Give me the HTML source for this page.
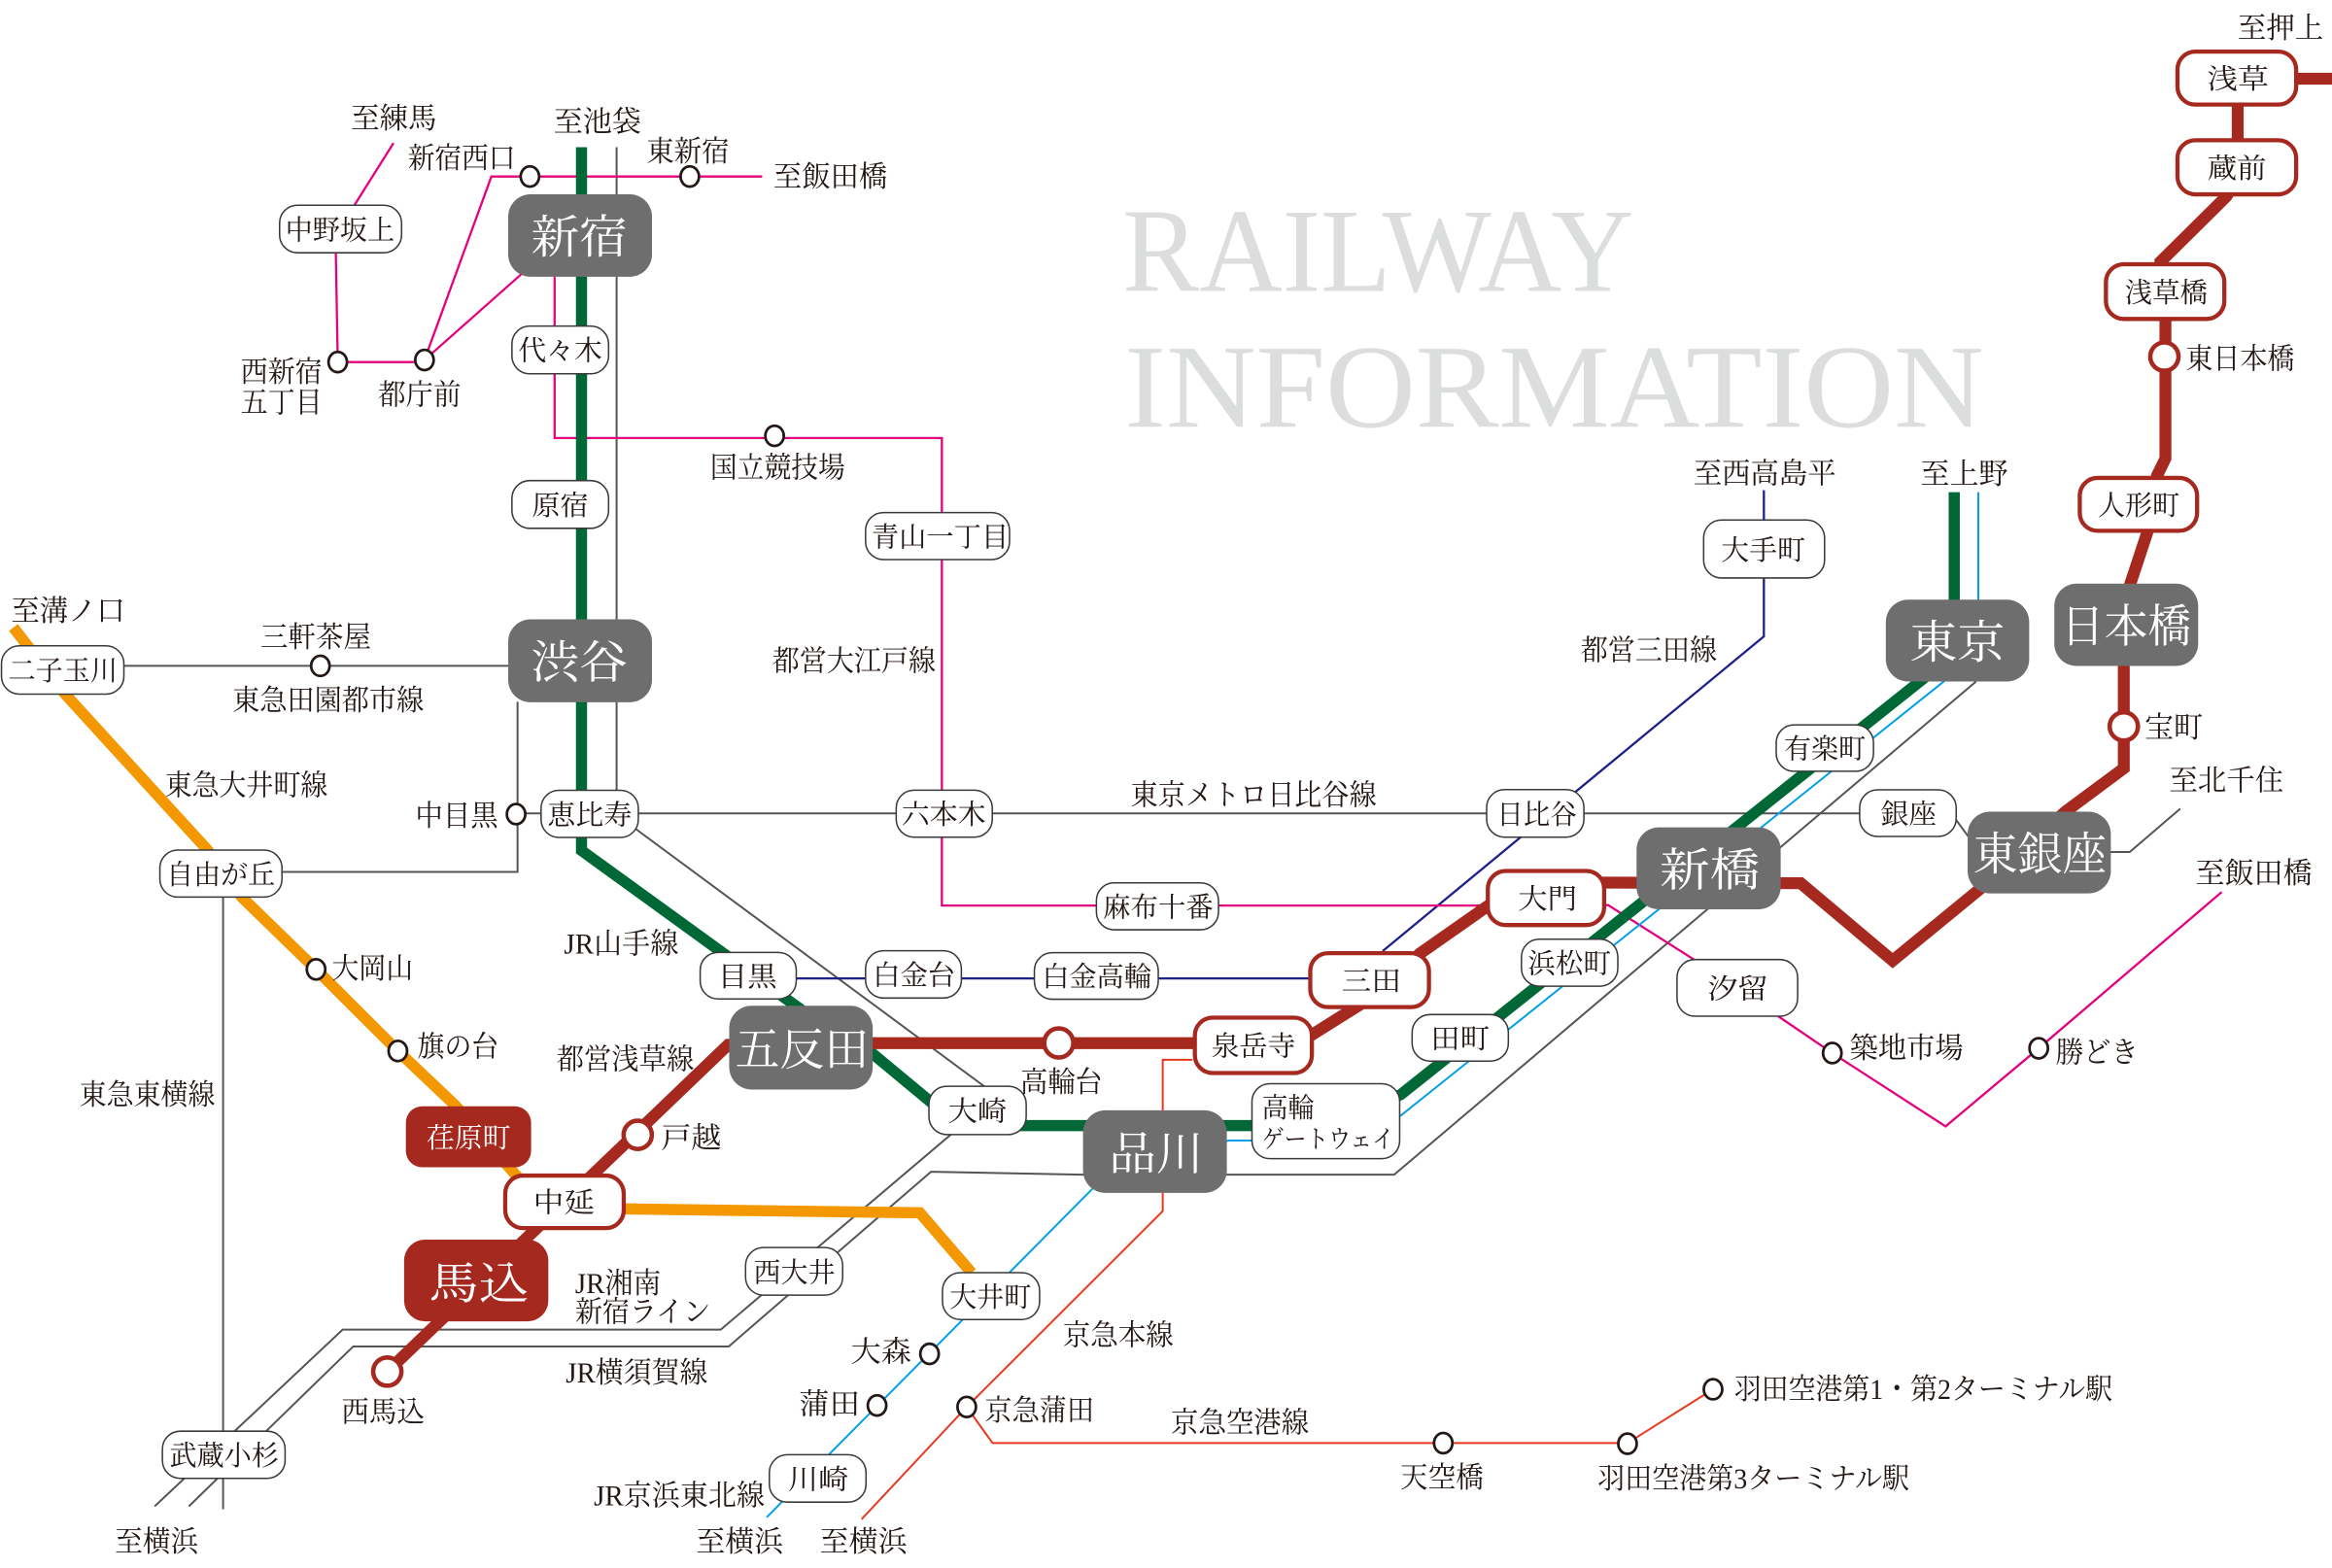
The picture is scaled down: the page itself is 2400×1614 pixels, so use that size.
<!DOCTYPE html>
<html><head><meta charset="utf-8">
<style>
html,body{margin:0;padding:0;background:#fff;}
svg{display:block;}
text{font-family:"Liberation Serif","Noto Serif CJK JP","Noto Serif CJK SC",serif;fill:#231815;}
.o{font-size:19.5px;text-anchor:middle;}
.os{font-size:19.5px;text-anchor:start;}
.b{font-size:18.5px;text-anchor:middle;}
.g{font-size:31px;text-anchor:middle;fill:#fff;}
.w{fill:#fff;stroke:#3a3a3a;stroke-width:1;}
.r{fill:#fff;stroke:#a6291f;stroke-width:2.8;}
.gr{fill:#6e6e6e;}
.c{fill:#fff;stroke:#231815;stroke-width:1.8;}
.rc{fill:#fff;stroke:#a6291f;stroke-width:3;}
</style></head>
<body>
<svg width="2400" height="1614" viewBox="0 0 1568 1054.5" preserveAspectRatio="none" xmlns="http://www.w3.org/2000/svg">
<!-- Title -->
<text x="754.7" y="195.6" font-size="80" textLength="344" lengthAdjust="spacingAndGlyphs" style="fill:#dcdddd;font-family:'Liberation Serif',serif">RAILWAY</text>
<text x="756" y="287" font-size="80" textLength="578" lengthAdjust="spacingAndGlyphs" style="fill:#dcdddd;font-family:'Liberation Serif',serif">INFORMATION</text>

<g fill="none" stroke-linejoin="miter">
<!-- gray lines -->
<g stroke="#555" stroke-width="1.3">
<path d="M414.6,99 V548 L661.7,730.5 L639,763.3 L484.6,894.2 H230.4 L104,1013"/>
<path d="M1328.7,458.3 L937.4,790 H727 L626,788 L490,905.5 H237.5 L127,1013"/>
<path d="M347,547 H1312 L1326,566"/>
<path d="M1419,573 H1432 L1466,543.8"/>
<path d="M83,447.8 H342"/>
<path d="M348,472 V586.4 H189.6"/>
<path d="M150,603 V1015"/>
</g>
<!-- navy Mita -->
<g stroke="#1d2088" stroke-width="1.5">
<path d="M500,658 H885"/>
<path d="M929.7,639.6 L1186,428 V329.7"/>
</g>
<!-- magenta Oedo -->
<g stroke="#e4007f" stroke-width="1.5">
<path d="M264.6,96.2 L238.3,138"/>
<path d="M225.8,170 L227.1,243.5 H285.4"/>
<path d="M285.4,242.1 L330.4,118.7 H512.5"/>
<path d="M285.4,242.1 L351.2,183.8"/>
<path d="M372.9,186 V294.6 H633.3 V609 H1005"/>
<path d="M1075,608.7 H1081.3 L1139,645.3"/>
<path d="M1195.6,683.4 L1232,708.2 L1308.2,757.5 L1370.8,705 L1493.8,599.9"/>
</g>
<!-- light blue -->
<path stroke="#00a0e9" stroke-width="1.3" d="M1330.2,331 V440 L1307,458.3 L941.9,750.2 L900,767 H826 L738,796 L515.5,1020.4"/>
<!-- keikyu -->
<g stroke="#e83820" stroke-width="1.3">
<path d="M801.7,712.7 H781.8 V814.5 L650,946.2 L579.3,1021.7"/>
<path d="M650,946.2 L667.4,970.5 H1094.3 L1151.8,934.3"/>
</g>
<!-- green Yamanote -->
<path stroke="#006837" stroke-width="7.5" d="M391,99 V572 L540,680 L586,708 L645,757 H900 L942,736 L1295,455 L1314,440 V331"/>
<!-- orange Oimachi -->
<path stroke="#f39800" stroke-width="7.5" d="M9,422 L43.8,466.8 L139.6,571.7 L162.5,603.3 L212.5,651.9 L267.5,706.8 L306.3,743.6 L348,791.6 L380,812.5 L618.5,815.6 L653.3,856"/>
<!-- red Asakusa -->
<path stroke="#a6291f" stroke-width="8" d="M260.4,922.4 L489.6,702.6 L540,701.5 H862 L870,703.5 L925,669 L954.7,641.3 L1010,602.5 L1030,593.4 L1210.8,594 L1272.6,646 L1332.6,596.8 L1388.7,545.9 L1428,516.7 V420 L1432,393.8 L1443.7,358.4 L1450.3,320 L1456,308.3 V215.9 L1452.7,176 L1497,132.1 L1504.6,120 V52.9 H1570"/>
</g>

<!-- small circles -->
<g class="c">
<ellipse cx="356.3" cy="118.7" rx="6.2" ry="6.8"/>
<ellipse cx="463.8" cy="118.7" rx="6.2" ry="6.8"/>
<ellipse cx="285.4" cy="242.1" rx="6.2" ry="6.8"/>
<ellipse cx="227.1" cy="243.5" rx="6.2" ry="6.8"/>
<ellipse cx="520.8" cy="293.1" rx="6.2" ry="6.8"/>
<ellipse cx="215.4" cy="447.8" rx="6.2" ry="6.8"/>
<ellipse cx="347" cy="547.5" rx="6.2" ry="6.8"/>
<ellipse cx="212.5" cy="651.9" rx="6.2" ry="6.8"/>
<ellipse cx="267.5" cy="706.8" rx="6.2" ry="6.8"/>
<ellipse cx="625" cy="910.5" rx="6.2" ry="6.8"/>
<ellipse cx="589.7" cy="945.2" rx="6.2" ry="6.8"/>
<ellipse cx="650" cy="946.2" rx="6.2" ry="6.8"/>
<ellipse cx="970.4" cy="970.5" rx="6.2" ry="6.8"/>
<ellipse cx="1094.3" cy="970.9" rx="6.2" ry="6.8"/>
<ellipse cx="1151.8" cy="934.3" rx="6.2" ry="6.8"/>
<ellipse cx="1232" cy="708.2" rx="6.2" ry="6.8"/>
<ellipse cx="1370.8" cy="705" rx="6.2" ry="6.8"/>
</g>
<!-- red circles -->
<g class="rc">
<circle cx="711.9" cy="701.4" r="9.8"/>
<circle cx="428.8" cy="763.2" r="9.5"/>
<circle cx="260.4" cy="922.4" r="9.5"/>
<circle cx="1455.3" cy="239.8" r="9.5"/>
<circle cx="1428" cy="488.5" r="9.5"/>
</g>

<!-- white boxes -->
<g class="w">
<rect x="188" y="138" width="82" height="32" rx="12"/>
<rect x="344.2" y="219.3" width="65" height="32.1" rx="12"/>
<rect x="344.2" y="323.2" width="65" height="32.1" rx="12"/>
<rect x="582" y="344.7" width="96.8" height="31.6" rx="12"/>
<rect x="1" y="434.3" width="82.3" height="32.5" rx="12"/>
<rect x="363.8" y="531.5" width="65.4" height="31.7" rx="12"/>
<rect x="602.6" y="531.4" width="64.6" height="31.6" rx="12"/>
<rect x="999.6" y="531" width="65.4" height="32" rx="12"/>
<rect x="1250.4" y="531.2" width="64.9" height="31.3" rx="12"/>
<rect x="1194.3" y="487.5" width="65.4" height="31.2" rx="12"/>
<rect x="1145.5" y="349.7" width="81.3" height="39" rx="12"/>
<rect x="107.5" y="571.7" width="82.1" height="31.6" rx="12"/>
<rect x="470.8" y="640.5" width="64.6" height="31.3" rx="12"/>
<rect x="582" y="639.4" width="64.4" height="31.8" rx="12"/>
<rect x="695.5" y="640.7" width="83.3" height="31.3" rx="12"/>
<rect x="737.2" y="593.7" width="82.1" height="31.6" rx="12"/>
<rect x="1023" y="631.6" width="64.8" height="31.6" rx="12"/>
<rect x="1127.6" y="645.3" width="81.1" height="38.1" rx="12"/>
<rect x="949.5" y="682.3" width="64.7" height="31.3" rx="12"/>
<rect x="624.6" y="730.5" width="65.4" height="32.5" rx="12"/>
<rect x="841.8" y="728.8" width="99.3" height="50.4" rx="12"/>
<rect x="501.3" y="839" width="65.3" height="32" rx="12"/>
<rect x="633.7" y="855.9" width="65.3" height="31.5" rx="12"/>
<rect x="109.2" y="962.5" width="82.5" height="31.7" rx="12"/>
<rect x="517.3" y="978.3" width="65" height="31.9" rx="12"/>
</g>
<!-- red-bordered boxes -->
<g class="r">
<rect x="339.7" y="790.6" width="79.7" height="35.3" rx="12"/>
<rect x="803.4" y="684.4" width="78.7" height="37.2" rx="12"/>
<rect x="881" y="641" width="79.8" height="36.3" rx="12"/>
<rect x="1000.4" y="585.7" width="78.2" height="36.4" rx="12"/>
<rect x="1464.1" y="34.7" width="79.8" height="35.6" rx="12"/>
<rect x="1464.1" y="94.3" width="79.8" height="36.4" rx="12"/>
<rect x="1416" y="177.7" width="79.6" height="36.8" rx="12"/>
<rect x="1398.4" y="321.4" width="78.9" height="35.6" rx="12"/>
</g>
<!-- red filled -->
<rect x="272.9" y="744" width="84.2" height="41" rx="11" fill="#a6291f"/>
<rect x="271.7" y="833.7" width="97" height="54.9" rx="14" fill="#a6291f"/>
<!-- gray hubs -->
<g class="gr">
<rect x="341.7" y="130.7" width="96.7" height="55.4" rx="15"/>
<rect x="341.7" y="416.5" width="96.7" height="55.8" rx="15"/>
<rect x="490.3" y="676.4" width="96.5" height="56.3" rx="15"/>
<rect x="728.2" y="746.7" width="96.7" height="55.5" rx="15"/>
<rect x="1100.4" y="556.4" width="96.9" height="55.1" rx="15"/>
<rect x="1268" y="403.3" width="96.4" height="55" rx="15"/>
<rect x="1381.3" y="392.5" width="96.7" height="55.4" rx="15"/>
<rect x="1323" y="545.9" width="96.3" height="54.9" rx="15"/>
</g>

<!-- outside labels -->
<g lengthAdjust="spacingAndGlyphs">
<text class="o" x="264.8" y="86.2" textLength="57.8" lengthAdjust="spacingAndGlyphs">至練馬</text>
<text class="o" x="310.4" y="113.1" textLength="72.4" lengthAdjust="spacingAndGlyphs">新宿西口</text>
<text class="o" x="401.7" y="88.4" textLength="59" lengthAdjust="spacingAndGlyphs">至池袋</text>
<text class="o" x="462.5" y="108.5" textLength="55.8" lengthAdjust="spacingAndGlyphs">東新宿</text>
<text class="o" x="558.3" y="125.6" textLength="76.6" lengthAdjust="spacingAndGlyphs">至飯田橋</text>
<text class="o" x="189.2" y="256.7" textLength="54.9" lengthAdjust="spacingAndGlyphs">西新宿</text>
<text class="o" x="189.2" y="277.2" textLength="54.9" lengthAdjust="spacingAndGlyphs">五丁目</text>
<text class="o" x="282.1" y="272.2" textLength="55.8" lengthAdjust="spacingAndGlyphs">都庁前</text>
<text class="o" x="522.9" y="321" textLength="90.8" lengthAdjust="spacingAndGlyphs">国立競技場</text>
<text class="o" x="45.8" y="417.4" textLength="76.6" lengthAdjust="spacingAndGlyphs">至溝ノ口</text>
<text class="o" x="212.3" y="435" textLength="74.5" lengthAdjust="spacingAndGlyphs">三軒茶屋</text>
<text class="o" x="220.6" y="477.6" textLength="128.8" lengthAdjust="spacingAndGlyphs">東急田園都市線</text>
<text class="o" x="574.2" y="451.2" textLength="109.9" lengthAdjust="spacingAndGlyphs">都営大江戸線</text>
<text class="o" x="165.6" y="534.7" textLength="109.4" lengthAdjust="spacingAndGlyphs">東急大井町線</text>
<text class="o" x="307.1" y="555.2" textLength="55.8" lengthAdjust="spacingAndGlyphs">中目黒</text>
<text class="o" x="417.7" y="641.2" textLength="77" lengthAdjust="spacingAndGlyphs">JR山手線</text>
<text class="o" x="250.4" y="657.8" textLength="54.8" lengthAdjust="spacingAndGlyphs">大岡山</text>
<text class="o" x="308" y="710.4" textLength="54.9" lengthAdjust="spacingAndGlyphs">旗の台</text>
<text class="o" x="420.4" y="718.9" textLength="92.4" lengthAdjust="spacingAndGlyphs">都営浅草線</text>
<text class="o" x="99" y="743" textLength="91.1" lengthAdjust="spacingAndGlyphs">東急東横線</text>
<text class="o" x="464.8" y="772" textLength="40.5" lengthAdjust="spacingAndGlyphs">戸越</text>
<text class="o" x="713.7" y="734.3" textLength="55.2" lengthAdjust="spacingAndGlyphs">高輪台</text>
<text class="os" x="386.7" y="869.5" textLength="57.8" lengthAdjust="spacingAndGlyphs">JR湘南</text>
<text class="os" x="386.7" y="888.9" textLength="91.1" lengthAdjust="spacingAndGlyphs">新宿ライン</text>
<text class="o" x="428.1" y="929.8" textLength="95.4" lengthAdjust="spacingAndGlyphs">JR横須賀線</text>
<text class="o" x="257.5" y="956.2" textLength="55.8" lengthAdjust="spacingAndGlyphs">西馬込</text>
<text class="o" x="592.4" y="915.6" textLength="40.8" lengthAdjust="spacingAndGlyphs">大森</text>
<text class="o" x="557.7" y="951.1" textLength="41" lengthAdjust="spacingAndGlyphs">蒲田</text>
<text class="o" x="698.9" y="955.3" textLength="73.6" lengthAdjust="spacingAndGlyphs">京急蒲田</text>
<text class="o" x="751.8" y="904.4" textLength="74.3" lengthAdjust="spacingAndGlyphs">京急本線</text>
<text class="o" x="833.7" y="963.2" textLength="92.8" lengthAdjust="spacingAndGlyphs">京急空港線</text>
<text class="o" x="969.5" y="1000.4" textLength="56" lengthAdjust="spacingAndGlyphs">天空橋</text>
<text class="o" x="456.7" y="1012.2" textLength="114.9" lengthAdjust="spacingAndGlyphs">JR京浜東北線</text>
<text class="o" x="105.3" y="1043.4" textLength="56.1" lengthAdjust="spacingAndGlyphs">至横浜</text>
<text class="o" x="497.3" y="1043.4" textLength="58.6" lengthAdjust="spacingAndGlyphs">至横浜</text>
<text class="o" x="580.6" y="1043.4" textLength="58.8" lengthAdjust="spacingAndGlyphs">至横浜</text>
<text class="o" x="842.9" y="541.2" textLength="165.3" lengthAdjust="spacingAndGlyphs">東京メトロ日比谷線</text>
<text class="o" x="1108.6" y="443.9" textLength="91.6" lengthAdjust="spacingAndGlyphs">都営三田線</text>
<text class="o" x="1186.6" y="325" textLength="95.9" lengthAdjust="spacingAndGlyphs">至西高島平</text>
<text class="o" x="1320.7" y="325.4" textLength="58.9" lengthAdjust="spacingAndGlyphs">至上野</text>
<text class="o" x="1533.4" y="25.6" textLength="57.7" lengthAdjust="spacingAndGlyphs">至押上</text>
<text class="o" x="1506.2" y="248.1" textLength="73.2" lengthAdjust="spacingAndGlyphs">東日本橋</text>
<text class="o" x="1461.5" y="496" textLength="39.2" lengthAdjust="spacingAndGlyphs">宝町</text>
<text class="o" x="1497" y="531.4" textLength="76.9" lengthAdjust="spacingAndGlyphs">至北千住</text>
<text class="o" x="1515.4" y="593.8" textLength="78.4" lengthAdjust="spacingAndGlyphs">至飯田橋</text>
<text class="o" x="1281.9" y="711.6" textLength="76.6" lengthAdjust="spacingAndGlyphs">築地市場</text>
<text class="o" x="1410" y="714.6" textLength="55.6" lengthAdjust="spacingAndGlyphs">勝どき</text>
<text class="o" x="1293.2" y="940.9" textLength="254.4" lengthAdjust="spacingAndGlyphs">羽田空港第1・第2ターミナル駅</text>
<text class="o" x="1179" y="1000.9" textLength="209.7" lengthAdjust="spacingAndGlyphs">羽田空港第3ターミナル駅</text>
</g>

<!-- box labels -->
<text class="b" x="228.6" y="161" textLength="73.6" lengthAdjust="spacingAndGlyphs">中野坂上</text>
<text class="b" x="376.7" y="242.2" textLength="56.5" lengthAdjust="spacingAndGlyphs">代々木</text>
<text class="b" x="376.7" y="346.2" textLength="38.2" lengthAdjust="spacingAndGlyphs">原宿</text>
<text class="b" x="632.1" y="367.5" textLength="92.3" lengthAdjust="spacingAndGlyphs">青山一丁目</text>
<text class="b" x="42.3" y="457.5" textLength="73.5" lengthAdjust="spacingAndGlyphs">二子玉川</text>
<text class="b" x="396.5" y="554.3" textLength="56.9" lengthAdjust="spacingAndGlyphs">恵比寿</text>
<text class="b" x="634.5" y="554.2" textLength="56.9" lengthAdjust="spacingAndGlyphs">六本木</text>
<text class="b" x="1033.3" y="554" textLength="53.8" lengthAdjust="spacingAndGlyphs">日比谷</text>
<text class="b" x="1283.3" y="553.8" textLength="37.5" lengthAdjust="spacingAndGlyphs">銀座</text>
<text class="b" x="1227" y="510" textLength="54.9" lengthAdjust="spacingAndGlyphs">有楽町</text>
<text class="b" x="1185.5" y="376.2" textLength="56.5" lengthAdjust="spacingAndGlyphs">大手町</text>
<text class="b" x="148.4" y="594.5" textLength="73.2" lengthAdjust="spacingAndGlyphs">自由が丘</text>
<text class="b" x="502.5" y="663" textLength="39.9" lengthAdjust="spacingAndGlyphs">目黒</text>
<text class="b" x="614.6" y="662.3" textLength="55.7" lengthAdjust="spacingAndGlyphs">白金台</text>
<text class="b" x="737.4" y="663.3" textLength="73.5" lengthAdjust="spacingAndGlyphs">白金高輪</text>
<text class="b" x="778.7" y="616.5" textLength="74.4" lengthAdjust="spacingAndGlyphs">麻布十番</text>
<text class="b" x="1055.2" y="654.4" textLength="55.9" lengthAdjust="spacingAndGlyphs">浜松町</text>
<text class="b" x="1168.4" y="671.3" textLength="40.7" lengthAdjust="spacingAndGlyphs">汐留</text>
<text class="b" x="981.7" y="705" textLength="39.6" lengthAdjust="spacingAndGlyphs">田町</text>
<text class="b" x="657.2" y="753.8" textLength="39.6" lengthAdjust="spacingAndGlyphs">大崎</text>
<text class="b" x="534.1" y="862" textLength="54.9" lengthAdjust="spacingAndGlyphs">西大井</text>
<text class="b" x="665.9" y="878.6" textLength="54.8" lengthAdjust="spacingAndGlyphs">大井町</text>
<text class="b" x="150.7" y="985.4" textLength="73.6" lengthAdjust="spacingAndGlyphs">武蔵小杉</text>
<text class="b" x="550.2" y="1001.2" textLength="40.8" lengthAdjust="spacingAndGlyphs">川崎</text>
<text class="b" x="379.2" y="815.2" textLength="41.5" lengthAdjust="spacingAndGlyphs">中延</text>
<text class="b" x="842.8" y="710" textLength="56.9" lengthAdjust="spacingAndGlyphs">泉岳寺</text>
<text class="b" x="922" y="666.2" textLength="40.2" lengthAdjust="spacingAndGlyphs">三田</text>
<text class="b" x="1040.5" y="610.9" textLength="39.6" lengthAdjust="spacingAndGlyphs">大門</text>
<text class="b" x="1504.7" y="59.5" textLength="41.5" lengthAdjust="spacingAndGlyphs">浅草</text>
<text class="b" x="1504" y="119.5" textLength="39.8" lengthAdjust="spacingAndGlyphs">蔵前</text>
<text class="b" x="1456.5" y="203.1" textLength="55.8" lengthAdjust="spacingAndGlyphs">浅草橋</text>
<text class="b" x="1438" y="346.2" textLength="54.9" lengthAdjust="spacingAndGlyphs">人形町</text>
<text class="b" x="315" y="771.5" textLength="56.5" lengthAdjust="spacingAndGlyphs" style="fill:#fff">荏原町</text>
<text x="848.5" y="751.2" font-size="18.5" textLength="35" lengthAdjust="spacingAndGlyphs">高輪</text>
<text x="848.5" y="771.8" font-size="17" textLength="89" lengthAdjust="spacingAndGlyphs">ゲートウェイ</text>

<!-- hub labels -->
<text class="g" x="389.5" y="170.2" textLength="65" lengthAdjust="spacingAndGlyphs">新宿</text>
<text class="g" x="389.5" y="456.2" textLength="65" lengthAdjust="spacingAndGlyphs">渋谷</text>
<text class="g" x="539.3" y="716.3" textLength="89.9" lengthAdjust="spacingAndGlyphs">五反田</text>
<text class="g" x="777.4" y="786.6" textLength="63.6" lengthAdjust="spacingAndGlyphs">品川</text>
<text class="g" x="1149.6" y="595.8" textLength="67.4" lengthAdjust="spacingAndGlyphs">新橋</text>
<text class="g" x="1316.1" y="442.6" textLength="64.2" lengthAdjust="spacingAndGlyphs">東京</text>
<text class="g" x="1429.5" y="432" textLength="87.5" lengthAdjust="spacingAndGlyphs">日本橋</text>
<text class="g" x="1371.6" y="585.1" textLength="89.8" lengthAdjust="spacingAndGlyphs">東銀座</text>
<text class="g" x="321.9" y="873.6" textLength="67" lengthAdjust="spacingAndGlyphs" style="font-size:30px">馬込</text>
</svg>
</body></html>
